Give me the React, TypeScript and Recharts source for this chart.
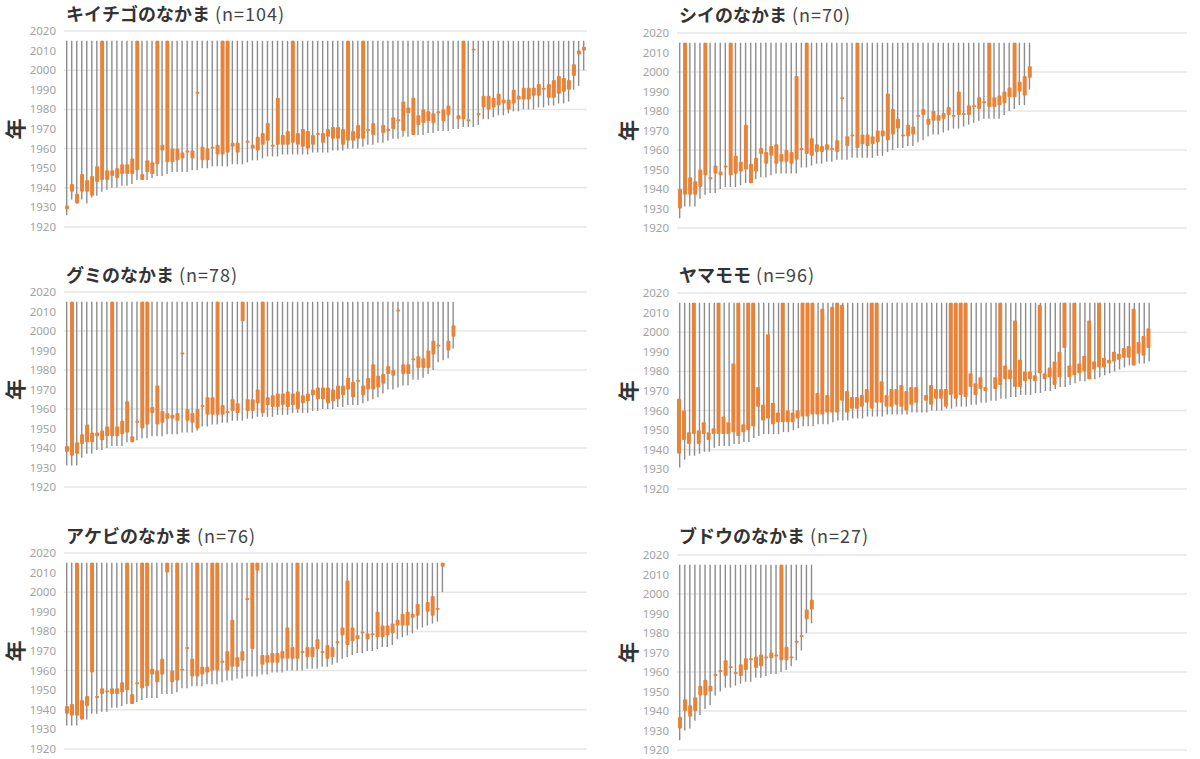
// Six small-multiple range charts: life line (birth → 2015) plus the orange span per person.

import { useMemo } from 'react';
import { ComposedChart, Bar, XAxis, YAxis, CartesianGrid } from 'recharts';

// ---------------------------------------------------------------------------
// Data
// ---------------------------------------------------------------------------

const YEAR_TICKS = [1920, 1930, 1940, 1950, 1960, 1970, 1980, 1990, 2000, 2010, 2020];
const LAST_YEAR = 2015;

type Span = [number, number] | null;

// キイチゴのなかま (n=104)
const KIICHIGO_BIRTH = [
  1926, 1934, 1932, 1934, 1932, 1935, 1936, 1938, 1939, 1940,
  1940, 1941, 1941, 1942, 1944, 1944, 1944, 1945, 1946, 1946,
  1947, 1948, 1948, 1948, 1948, 1949, 1949, 1950, 1950, 1951,
  1951, 1951, 1951, 1952, 1952, 1952, 1953, 1954, 1954, 1955,
  1956, 1956, 1956, 1957, 1957, 1957, 1957, 1957, 1957, 1958,
  1958, 1958, 1958, 1959, 1959, 1959, 1960, 1960, 1960, 1961,
  1962, 1962, 1963, 1963, 1964, 1965, 1965, 1966, 1966, 1967,
  1967, 1967, 1968, 1968, 1969, 1969, 1969, 1970, 1970, 1971,
  1971, 1971, 1972, 1975, 1975, 1976, 1977, 1977, 1978, 1979,
  1979, 1980, 1980, 1980, 1981, 1981, 1982, 1982, 1983, 1983,
  1984, 1990, 1992, 2000,
];
const KIICHIGO_SPAN: Span[] = [
  [1929, 1931], [1938, 1942], [1932, 1937], [1938, 1947], [1938, 1944], [1936, 1946], [1943, 1951], [1944, 2015], [1944, 1949], [1946, 1949],
  [1945, 1950], [1947, 1952], [1947, 1952], [1947, 1955], [1949, 2015], [1944, 1947], [1948, 1954], [1947, 1953], [1952, 2015], [1959, 1962],
  [1953, 2015], [1953, 1960], [1954, 1960], [1955, 1958], [1958, 1959], [1955, 1959], [1988, 1989], [1954, 1961], [1954, 1960], [1960, 1961],
  [1957, 1962], [1957, 2015], [1958, 2015], [1961, 1963], [1958, 1963], null, [1963, 1964], [1960, 1962], [1959, 1966], [1962, 1968],
  [1964, 1973], [1961, 1962], [1962, 1986], [1962, 1967], [1962, 1969], [1963, 2015], [1962, 1968], [1961, 1970], [1960, 1969], [1962, 1967],
  [1967, 1968], [1963, 1968], [1966, 1970], [1965, 1971], [1965, 1971], [1962, 1970], [1964, 2015], [1964, 1969], [1965, 1972], [1965, 2015],
  [1969, 1970], [1967, 1973], null, [1968, 1972], [1969, 1970], [1970, 1976], [1974, 1975], [1969, 1984], [1978, 1981], [1967, 1986],
  [1972, 1977], [1973, 1980], [1974, 1979], [1973, 1978], [1978, 1979], [1974, 1980], [1977, 1982], null, [1975, 1977], [1975, 2015],
  [1974, 1975], [2010, 2011], [1977, 1978], [1981, 1987], [1980, 1987], [1981, 1986], [1982, 1988], [1983, 1985], [1980, 1985], [1983, 1990],
  [1985, 1987], [1985, 1991], [1985, 1991], [1987, 1991], [1987, 1993], [1990, 1991], [1986, 1993], [1986, 1995], [1988, 1997], [1989, 1996],
  [1990, 1995], [1997, 2003], [2008, 2010], [2010, 2012],
];

// シイのなかま (n=70)
const SHII_BIRTH = [
  1925, 1931, 1931, 1931, 1935, 1937, 1938, 1938, 1940, 1941,
  1941, 1941, 1942, 1943, 1943, 1945, 1946, 1946, 1947, 1948,
  1948, 1948, 1948, 1948, 1951, 1951, 1952, 1953, 1953, 1954,
  1954, 1955, 1955, 1955, 1956, 1956, 1956, 1956, 1956, 1957,
  1957, 1959, 1960, 1961, 1961, 1962, 1962, 1964, 1965, 1967,
  1968, 1968, 1969, 1970, 1971, 1971, 1972, 1973, 1974, 1975,
  1976, 1976, 1976, 1976, 1978, 1980, 1981, 1983, 1983, 1991,
];
const SHII_SPAN: Span[] = [
  [1930, 1940], [1937, 2015], [1937, 1946], [1937, 1944], [1941, 1950], [1947, 2015], [1945, 1946], [1948, 1952], [1947, 1949], [1951, 1952],
  [1947, 2015], [1948, 1957], [1949, 1954], [1950, 1973], [1943, 1953], [1949, 1956], [1958, 1961], [1953, 1959], [1957, 1962], [1953, 1963],
  [1954, 1958], [1954, 1960], [1953, 1959], [1955, 1998], [1960, 1961], [1958, 2015], [1957, 1966], [1959, 1963], [1959, 1962], [1960, 1963],
  [1960, 1961], [1959, 1965], [1986, 1987], [1962, 1967], [1967, 1968], [1961, 2015], [1963, 1968], [1962, 1968], [1963, 1967], [1964, 1970],
  [1967, 1970], [1965, 1989], [1968, 1981], [1971, 1976], [1967, 1968], [1967, 1973], [1968, 1972], [1977, 1978], [1978, 1981], [1973, 1976],
  [1975, 1980], [1975, 1978], [1976, 1979], [1978, 1982], [1977, 1978], [1978, 1990], [1978, 1979], [1978, 1983], [1982, 1983], [1981, 1987],
  [1984, 1985], [1982, 2015], [1982, 1987], [1983, 1988], [1984, 1990], [1987, 1992], [1987, 2015], [1990, 1995], [1988, 1998], [1997, 2003],
];

// グミのなかま (n=78)
const GUMI_BIRTH = [
  1931, 1931, 1931, 1935, 1937, 1937, 1939, 1939, 1940, 1941,
  1941, 1941, 1943, 1943, 1944, 1945, 1945, 1946, 1946, 1946,
  1947, 1947, 1947, 1948, 1948, 1948, 1949, 1951, 1951, 1952,
  1952, 1953, 1953, 1954, 1954, 1954, 1955, 1955, 1956, 1956,
  1956, 1956, 1957, 1957, 1957, 1958, 1958, 1958, 1958, 1959,
  1959, 1960, 1960, 1960, 1961, 1961, 1962, 1962, 1962, 1963,
  1964, 1965, 1966, 1968, 1970, 1970, 1971, 1972, 1972, 1975,
  1975, 1976, 1978, 1980, 1984, 1985, 1986, 1991,
];
const GUMI_SPAN: Span[] = [
  [1938, 1941], [1936, 2015], [1937, 1943], [1942, 1947], [1943, 1952], [1943, 1948], [1946, 1948], [1944, 1949], [1946, 1951], [1946, 2015],
  [1946, 1951], [1947, 1954], [1948, 1964], [1943, 1946], [1953, 1954], [1950, 2015], [1952, 2015], [1958, 1961], [1952, 1972], [1953, 1959],
  [1955, 1958], [1955, 1957], [1954, 1958], [1988, 1989], [1954, 1960], [1953, 1958], [1950, 1960], [1961, 1962], [1957, 1966], [1957, 1966],
  [1957, 2015], [1957, 1962], [1958, 1959], [1959, 1965], [1958, 1963], [2005, 2015], [1959, 1965], [1959, 1965], [1963, 1970], [1958, 2015],
  [1962, 1966], [1961, 1967], [1961, 1968], [1962, 1968], [1961, 1969], [1962, 1968], [1960, 1969], [1963, 1967], [1964, 1968], [1967, 1970],
  [1965, 1971], [1965, 1971], [1963, 1971], [1964, 1970], [1965, 1972], [1967, 1972], [1970, 1976], [1966, 1974], [1974, 1975], [1967, 1972],
  [1970, 1976], [1970, 1983], [1971, 1977], [1973, 1978], [1978, 1982], [1977, 1980], [2010, 2011], [1978, 1983], [1978, 1983], [1985, 1986],
  [1981, 1987], [1981, 1986], [1981, 1990], [1988, 1995], [1992, 1993], null, [1990, 1995], [1997, 2003],
];

// ヤマモモ (n=96)
const YAMAMOMO_BIRTH = [
  1931, 1935, 1937, 1937, 1938, 1939, 1939, 1941, 1942, 1942,
  1942, 1943, 1943, 1944, 1944, 1946, 1947, 1948, 1948, 1948,
  1948, 1949, 1949, 1950, 1951, 1952, 1952, 1952, 1953, 1953,
  1953, 1954, 1955, 1955, 1955, 1956, 1956, 1956, 1957, 1957,
  1957, 1957, 1958, 1958, 1958, 1958, 1958, 1959, 1959, 1959,
  1959, 1960, 1960, 1960, 1961, 1961, 1962, 1962, 1962, 1963,
  1963, 1964, 1964, 1965, 1965, 1966, 1966, 1967, 1967, 1968,
  1968, 1968, 1969, 1969, 1970, 1970, 1971, 1972, 1972, 1973,
  1974, 1975, 1975, 1976, 1976, 1977, 1978, 1979, 1980, 1981,
  1982, 1983, 1983, 1984, 1984, 1985,
];
const YAMAMOMO_SPAN: Span[] = [
  [1938, 1966], [1945, 1960], [1943, 1949], [1948, 2015], [1943, 1950], [1948, 1954], [1945, 1949], [1948, 1951], [1948, 2015], [1948, 1957],
  [1948, 1954], [1949, 1984], [1947, 2015], [1949, 1953], [1950, 2015], [1952, 2015], [1962, 1972], [1955, 1963], [1956, 1999], [1953, 1964],
  [1954, 1959], [1954, 2015], [1954, 1960], [1954, 1959], [1956, 1960], [1957, 2015], [1957, 2015], [1958, 2015], [1958, 1969], [1958, 2012],
  [1959, 1968], [1959, 2013], [1959, 2015], [1965, 2014], [1959, 1970], [1961, 1967], [1961, 1967], [1962, 1968], [1964, 1971], [1961, 2015],
  [1964, 2015], [1964, 1975], [1962, 1968], [1962, 1971], [1963, 1971], [1962, 1973], [1960, 1970], [1963, 1972], [1964, 1972], null,
  [1965, 1968], [1963, 1973], [1966, 1971], [1966, 1971], [1962, 1971], [1968, 2015], [1966, 2015], [1968, 2015], [1967, 2015], [1972, 1979],
  [1968, 1974], [1971, 1977], [1970, 1972], null, [1971, 1977], [1973, 2015], [1976, 1983], [1976, 1981], [1972, 2006], [1972, 1986],
  [1975, 1980], [1976, 1980], [1975, 1978], [1979, 2014], [1976, 1979], [1977, 1982], [1973, 1985], [1977, 1990], [1992, 2015], [1977, 1983],
  [1978, 2015], [1979, 1984], [1980, 1988], [1976, 2006], [1981, 1985], [1982, 2015], [1982, 1987], [1984, 1986], [1985, 1990], [1986, 1989],
  [1987, 1992], [1987, 1993], [1983, 2012], [1989, 1995], [1988, 1998], [1992, 2002],
];

// アケビのなかま (n=76)
const AKEBI_BIRTH = [
  1932, 1932, 1932, 1935, 1935, 1938, 1938, 1939, 1939, 1941,
  1941, 1942, 1943, 1943, 1944, 1945, 1946, 1946, 1946, 1948,
  1948, 1948, 1949, 1951, 1951, 1952, 1952, 1952, 1953, 1953,
  1953, 1954, 1955, 1955, 1956, 1956, 1957, 1957, 1957, 1958,
  1958, 1959, 1959, 1959, 1960, 1960, 1960, 1960, 1961, 1961,
  1961, 1962, 1962, 1963, 1964, 1966, 1967, 1968, 1969, 1969,
  1970, 1970, 1971, 1972, 1972, 1973, 1976, 1977, 1978, 1979,
  1981, 1982, 1983, 1984, 1985, 2000,
];
const AKEBI_SPAN: Span[] = [
  [1938, 1942], [1937, 1943], [1937, 2015], [1935, 1945], [1942, 1947], [1959, 2015], [1946, 1947], [1948, 1951], [1949, 1950], [1948, 1951],
  [1948, 1951], [1949, 1954], [1950, 2015], [1943, 1948], [1953, 1954], [1951, 2015], [1952, 2015], [1958, 1961], [1954, 1960], [1958, 1966],
  [2010, 2015], [1954, 1960], [1955, 2015], [1960, 1961], [1971, 1972], [1957, 1966], [1957, 2015], [1958, 1962], [1959, 1962], [1960, 2015],
  [1960, 2015], [1964, 1965], [1960, 1970], [1962, 1986], [1962, 1967], [1965, 1970], [1996, 1997], [1971, 2015], [2011, 2015], [1963, 1968],
  [1964, 1968], [1964, 1969], [1964, 1969], [1966, 1970], [1966, 1982], [1966, 1972], [1966, 2015], [1969, 1970], [1967, 1972], [1967, 1972],
  [1971, 1976], [1969, 1970], [1966, 1973], [1967, 1972], [1974, 1975], [1978, 1982], [1973, 2006], [1975, 1982], [1976, 1978], [1979, 1980],
  [1976, 1979], [1978, 1979], [1977, 1990], [1977, 1983], [1978, 1983], [1979, 1984], [1983, 1986], [1983, 1989], [1983, 1990], [1987, 1989],
  [1988, 1994], null, [1990, 1995], [1988, 1998], [1991, 1992], [2013, 2015],
];

// ブドウのなかま (n=27)
const BUDOU_BIRTH = [
  1925, 1930, 1931, 1935, 1938, 1941, 1943, 1948, 1950, 1952,
  1952, 1953, 1954, 1955, 1955, 1957, 1957, 1958, 1959, 1959,
  1960, 1961, 1963, 1966, 1971, 1980, 1985,
];
const BUDOU_SPAN: Span[] = [
  [1931, 1937], [1940, 1946], [1937, 1943], [1940, 1947], [1948, 1953], [1948, 1956], [1950, 1953], [1958, 1959], [1960, 1961], [1958, 1966],
  [1962, 1963], [1959, 1960], [1958, 1964], [1961, 1967], [1966, 1967], [1962, 1968], [1963, 1969], [1967, 1968], [1967, 1970], [1968, 1969],
  [1966, 2015], [1966, 1973], [1967, 1968], [1975, 1976], [1978, 1979], [1987, 1992], [1992, 1997],
];

// ---------------------------------------------------------------------------
// Layout
// ---------------------------------------------------------------------------

const COLORS = {
  life: '#8d8d8d',
  span: '#e8833a',
  grid: '#e6e6e6',
  tick: '#a3a3a3',
  title: '#333333',
} as const;

const Y_AXIS_W = 64;

interface PanelSpec {
  readonly name: string;
  readonly births: readonly number[];
  readonly spans: readonly Span[];
  readonly x: number; // chart left (page px)
  readonly plotTop: number;
  readonly plotHeight: number;
  readonly plotWidth: number;
  readonly slots: number; // column slots across the plot
  readonly titleTop: number;
}

const PANELS: readonly PanelSpec[] = [
  { name: 'キイチゴのなかま', births: KIICHIGO_BIRTH, spans: KIICHIGO_SPAN, x: 0, plotTop: 31, plotHeight: 196, plotWidth: 523, slots: 104.2, titleTop: 2 },
  { name: 'シイのなかま', births: SHII_BIRTH, spans: SHII_SPAN, x: 613, plotTop: 33, plotHeight: 195, plotWidth: 510, slots: 100.6, titleTop: 3 },
  { name: 'グミのなかま', births: GUMI_BIRTH, spans: GUMI_SPAN, x: 0, plotTop: 292, plotHeight: 195, plotWidth: 523, slots: 104.2, titleTop: 263 },
  { name: 'ヤマモモ', births: YAMAMOMO_BIRTH, spans: YAMAMOMO_SPAN, x: 613, plotTop: 293, plotHeight: 196, plotWidth: 510, slots: 103.2, titleTop: 263 },
  { name: 'アケビのなかま', births: AKEBI_BIRTH, spans: AKEBI_SPAN, x: 0, plotTop: 553, plotHeight: 196, plotWidth: 523, slots: 104.4, titleTop: 524 },
  { name: 'ブドウのなかま', births: BUDOU_BIRTH, spans: BUDOU_SPAN, x: 613, plotTop: 555, plotHeight: 195, plotWidth: 510, slots: 100.6, titleTop: 524 },
];

// ---------------------------------------------------------------------------
// Axis label: "年", turned a quarter left, centred on the plot height
// ---------------------------------------------------------------------------

function YearLabel(props: { viewBox?: { x: number; y: number; width: number; height: number } }) {
  const vb = props.viewBox;
  if (!vb) return null;
  const cx = vb.x + 14;
  const cy = vb.y + vb.height / 2;
  return (
    <text
      x={cx}
      y={cy}
      transform={`rotate(-90, ${cx}, ${cy})`}
      textAnchor="middle"
      dominantBaseline="central"
      fontSize={21}
      fontWeight={700}
      fill={COLORS.title}
      fontFamily="'Noto Sans CJK JP', sans-serif"
    >
      年
    </text>
  );
}

// ---------------------------------------------------------------------------
// Panel
// ---------------------------------------------------------------------------

function LifePanel({ spec }: { spec: PanelSpec }) {
  const rows = useMemo(
    () =>
      spec.births.map((birth, i) => ({
        i,
        life: [birth, LAST_YEAR],
        span: spec.spans[i] ?? undefined,
      })),
    [spec],
  );

  const domain: [number, number] = [-0.5, spec.slots - 0.5];

  return (
    <>
      <div
        style={{
          position: 'absolute',
          left: spec.x + Y_AXIS_W + 2,
          top: spec.titleTop,
          fontFamily: "'Noto Sans CJK JP', 'Noto Sans', sans-serif",
          fontSize: 18,
          lineHeight: '22px',
          color: COLORS.title,
          whiteSpace: 'nowrap',
        }}
      >
        <span style={{ fontWeight: 700 }}>{spec.name}</span>
        <span style={{ color: '#444', letterSpacing: 1 }}> (n={spec.births.length})</span>
      </div>

      <div style={{ position: 'absolute', left: spec.x, top: spec.plotTop - 8 }}>
        <ComposedChart
          width={Y_AXIS_W + spec.plotWidth}
          height={spec.plotHeight + 16}
          data={rows}
          margin={{ top: 8, right: 0, bottom: 8, left: 0 }}
        >
          <CartesianGrid xAxisId="life" vertical={false} stroke={COLORS.grid} strokeWidth={1.5} />
          <XAxis xAxisId="life" type="number" dataKey="i" domain={domain} hide />
          <XAxis xAxisId="span" type="number" dataKey="i" domain={domain} hide />
          <YAxis
            domain={[1920, 2020]}
            ticks={YEAR_TICKS}
            axisLine={false}
            tickLine={false}
            width={Y_AXIS_W}
            tick={{ fontSize: 11.5, fill: COLORS.tick, fontFamily: 'Noto Sans' }}
            label={<YearLabel />}
          />
          <Bar xAxisId="life" dataKey="life" fill={COLORS.life} barSize={1.4} isAnimationActive={false} />
          <Bar xAxisId="span" dataKey="span" fill={COLORS.span} barSize={4} radius={1} isAnimationActive={false} />
        </ComposedChart>
      </div>
    </>
  );
}

export default function App() {
  return (
    <div style={{ position: 'absolute', left: 0, top: 0, width: 1200, height: 759, background: '#fff' }}>
      {PANELS.map((spec) => (
        <LifePanel key={spec.name} spec={spec} />
      ))}
    </div>
  );
}
